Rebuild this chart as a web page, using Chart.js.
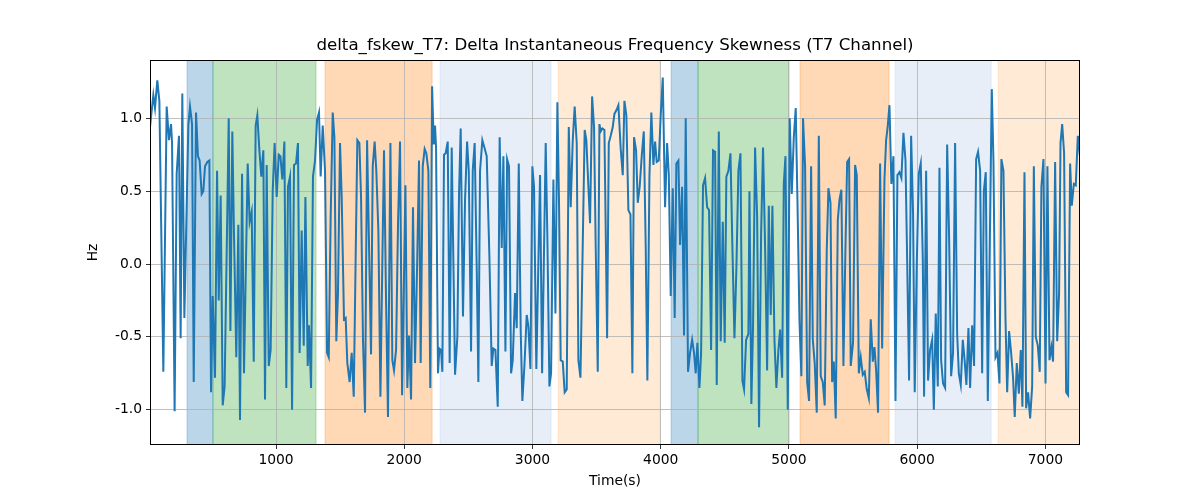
<!DOCTYPE html>
<html>
<head>
<meta charset="utf-8">
<script src="https://cdn.jsdelivr.net/npm/chart.js@4"></script>
<style>
html,body{margin:0;padding:0;background:#fff;}
#c{display:block;}
</style>
</head>
<body>
<canvas id="c" width="1200" height="500"></canvas>
<script>
const chartTitle = "delta_fskew_T7: Delta Instantaneous Frequency Skewness (T7 Channel)";
const xLabel = "Time(s)";
const yLabel = "Hz";
const xTicks = [1000, 2000, 3000, 4000, 5000, 6000, 7000];
const yTicks = [-1.0, -0.5, 0.0, 0.5, 1.0];
const yMin = -1.242, yMax = 1.40;

const times = [
17,43,56,74,90,121,147,165,181,189,209,225,243,256,269,285,316,329,345,358,376,391,404,420,433,446,464,480,493,506,524,540,553,568,584,599,631,644,659,672,690,706,719,735,750,779,794,810,826,841,854,870,885,901,914,927,943,958,974,989,1005,1021,1034,1049,1065,1080,1093,1109,1125,1140,1156,1171,1184,1200,1216,1229,
1247,1257,1273,1288,1304,1320,1335,1348,1364,1382,1398,1411,1426,1442,1455,1470,1483,1499,1512,1530,1543,1556,1574,1590,1606,1621,1634,1650,1663,1678,1694,1710,1741,1754,1769,1782,1798,1814,1827,1842,1858,1873,1892,1907,1920,1936,1951,1967,1983,1996,2009,2024,2037,2053,2068,2084,2100,2115,2128,2144,2159,2172,2188,2203,2217,2230,2240,2248,2263,2274,2287,2297,2310,2323,2339,2354,2370,2396,2414,2427,2440,2458,
2474,2490,2503,2521,2534,2549,2565,2578,2591,2609,2625,2643,2664,2682,2695,2711,2729,2744,2760,2773,2789,2802,2817,2833,2846,2864,2877,2893,2908,2921,2937,2955,2968,2984,2999,3012,3030,3059,3075,3103,3116,3132,3145,3163,3179,3194,3207,3220,3236,3251,3267,3283,3298,3314,3329,3345,3358,3374,3392,3407,3420,3436,3449,3465,3480,3493,3509,3522,3532,3545,3561,3582,3595,3610,3626,3639,3657,3670,
3688,3704,3717,3732,3748,3764,3779,3792,3808,3821,3836,3852,3868,3883,3896,3912,3927,3943,3956,3969,3985,4000,4016,4034,4050,4063,4078,4094,4109,4122,4138,4151,4167,4182,4195,4213,4229,4245,4260,4273,4286,4302,4315,4330,4346,4362,4377,4393,4408,4424,4437,4453,4468,4484,4499,4512,4528,4544,4559,4575,4590,4606,4622,4637,4650,4666,4684,4692,4707,4720,4736,4752,4767,4783,4798,4814,4830,4843,4858,4871,
4887,4902,4918,4931,4947,4960,4973,4991,5006,5022,5038,5053,5066,5082,5097,5110,5126,5142,5157,5173,5186,5201,5217,5233,5248,5264,5279,5295,5308,5324,5337,5350,5365,5381,5394,5409,5425,5441,5454,5469,5482,5500,5516,5529,5545,5560,5576,5591,5607,5623,5638,5654,5667,5680,5695,5711,5727,5745,5758,5771,5784,5799,5815,5831,5846,5862,5877,5893,5909,5922,5937,5953,5968,5981,5997,6013,6028,6044,6054,6070,6085,
6101,6117,6130,6145,6161,6174,6187,6202,6218,6234,6249,6265,6280,6296,6312,6325,6340,6356,6371,6384,6400,6413,6429,6444,6460,6475,6491,6507,6520,6535,6551,6566,6582,6595,6611,6626,6642,6657,6673,6689,6702,6717,6733,6748,6761,6777,6793,6808,6821,6837,6850,6865,6881,6897,6910,6925,6941,6956,6969,6985,7001,7016,7032,7047,7060,7076,7092,7107,7118,7131,7146,7162,7177,7193,7206,7222,7237,7253,7270
];

const values = [
0.94,1.16,1.07,1.26,1.12,-0.74,1.08,0.85,0.96,0.83,-1.01,0.62,0.88,-0.51,1.17,-0.37,0.95,1.08,0.96,-0.81,1.04,0.74,0.71,0.48,0.50,0.67,0.70,0.71,-0.88,-0.22,-0.78,0.64,-0.25,0.47,-0.97,-0.84,1.00,-0.46,0.91,0.21,-0.64,0.27,-1.07,0.62,-0.75,0.69,0.29,0.36,-0.67,0.95,1.02,0.78,0.60,0.78,-0.93,0.68,-0.70,-0.59,0.50,0.83,0.46,0.75,0.74,0.58,0.84,-0.85,0.53,0.60,-1.00,0.68,0.69,0.83,-0.61,0.23,-0.56,0.46,
-0.70,-0.42,-0.85,0.60,0.71,0.99,1.04,0.60,0.95,0.64,-0.61,-0.64,0.32,1.04,0.87,-0.53,-0.20,0.83,0.46,-0.38,-0.37,-0.68,-0.81,-0.61,-0.91,0.05,0.85,0.83,0.46,-0.52,-1.02,0.85,-0.62,0.67,0.84,0.64,0.23,-0.91,-0.11,0.78,-0.25,-1.05,0.83,-0.66,-0.73,-0.59,0.26,0.84,-0.90,-0.20,0.54,-0.85,-0.49,-0.93,0.39,-0.68,-0.02,0.71,-0.68,0.67,0.79,0.76,0.64,-0.85,1.22,0.82,0.95,0.80,-0.75,-0.58,-0.59,-0.74,0.75,0.76,0.84,-0.68,0.80,-0.76,-0.50,0.48,0.93,-0.36,
0.44,0.84,0.64,-0.60,0.64,0.83,-0.02,-0.81,0.64,0.85,0.80,0.74,0.05,-0.70,-0.58,-0.59,-0.98,0.87,0.11,0.74,-0.60,0.72,0.67,-0.75,-0.66,-0.20,-0.44,0.69,-0.45,-0.94,-0.70,-0.35,-0.43,-0.72,0.67,0.53,-0.72,0.61,-0.75,0.83,0.19,-0.84,-0.75,0.58,-0.34,1.11,0.42,-0.66,-0.67,-0.88,-0.86,0.94,0.39,0.85,1.08,0.83,-0.66,-0.78,0.14,0.92,0.85,0.53,0.28,1.15,0.94,0.12,-0.74,0.96,0.91,0.93,0.92,-0.51,0.83,0.88,0.94,1.03,1.06,1.09,
0.79,0.61,1.12,1.02,0.37,0.34,-0.75,0.87,0.78,0.42,0.53,0.74,0.91,0.12,-0.80,0.60,1.04,0.68,0.84,0.70,0.71,1.02,1.28,0.39,0.83,0.62,-0.22,0.52,-0.37,0.69,0.71,0.13,0.53,-0.49,1.00,-0.74,-0.61,-0.52,-0.61,-0.75,-0.54,-0.85,-0.61,0.54,0.59,0.39,0.37,-0.59,0.78,0.77,-0.83,0.91,-0.53,0.29,-0.54,0.60,0.64,0.76,0.12,-0.51,-0.04,0.64,0.76,-0.80,-0.86,-0.52,-0.48,0.50,-0.96,-0.43,0.80,0.32,-1.12,0.21,0.80,0.12,-0.73,0.40,-0.35,0.40,
-0.52,-0.85,-0.59,-0.45,-0.78,0.55,0.74,-1.00,1.00,0.48,0.87,1.07,0.46,-0.38,-0.77,1.00,0.67,-0.81,-0.94,0.67,-0.52,-0.68,-1.02,0.88,-0.77,-0.81,-0.97,0.10,0.52,0.42,-0.81,-0.67,-1.06,0.30,0.44,0.51,-0.70,0.12,0.70,0.72,-0.70,-0.54,0.68,0.61,-0.75,-0.64,-0.76,-0.74,-0.86,-0.92,-0.38,-0.67,-0.57,-0.73,-1.02,0.69,-0.58,0.58,0.85,0.95,1.09,0.55,0.74,-0.94,0.61,0.63,0.59,0.90,0.71,0.03,-0.80,0.88,0.35,-0.88,0.00,0.62,0.69,0.03,-0.91,0.64,-0.80,
-0.59,-0.52,-1.00,-0.34,-0.84,0.66,-0.66,-0.82,-0.85,0.82,0.19,-0.77,-0.61,0.83,-0.48,-0.75,-0.83,-0.52,-0.67,-0.83,-0.44,-0.85,-0.42,-0.70,0.72,0.77,0.64,-0.75,0.50,0.63,-0.94,0.10,1.20,0.71,-0.64,-0.61,-0.82,0.72,0.64,-0.38,-0.88,-0.46,-0.61,-0.78,-1.05,-0.68,-0.89,-0.59,-0.98,0.63,-0.99,-0.88,-1.06,-0.84,0.67,-0.50,-0.56,-0.74,0.53,0.72,-0.82,0.67,-0.66,-0.57,-0.67,0.70,-0.53,-0.20,0.83,0.96,0.76,-0.88,-0.90,0.69,0.40,0.55,0.54,0.88,0.74
];

const spanStarts = [306, 508, 1382, 2279, 3200, 4081, 4291, 5087, 5828, 6632];
const spanEnds   = [508, 1312, 2217, 3145, 3995, 4291, 5001, 5781, 6577, 7273];
const spanColors = [
  "rgba(31,119,180,0.3)", "rgba(44,160,44,0.3)", "rgba(255,127,14,0.3)",
  "rgba(174,199,232,0.3)", "rgba(255,187,120,0.3)",
  "rgba(31,119,180,0.3)", "rgba(44,160,44,0.3)", "rgba(255,127,14,0.3)",
  "rgba(174,199,232,0.3)", "rgba(255,187,120,0.3)"
];

const FONT = "'DejaVu Sans', sans-serif";

const spanPlugin = {
  id: 'spans',
  beforeDraw(chart) {
    const {ctx, chartArea, scales} = chart;
    ctx.save();
    ctx.beginPath();
    ctx.rect(chartArea.left, chartArea.top, chartArea.right - chartArea.left, chartArea.bottom - chartArea.top);
    ctx.clip();
    for (let i = 0; i < spanStarts.length; i++) {
      const x0 = scales.x.getPixelForValue(spanStarts[i]);
      const x1 = scales.x.getPixelForValue(spanEnds[i]);
      ctx.fillStyle = spanColors[i];
      ctx.fillRect(x0, chartArea.top, x1 - x0, chartArea.bottom - chartArea.top);
      ctx.strokeStyle = spanColors[i];
      ctx.lineWidth = 1;
      ctx.strokeRect(x0, chartArea.top, x1 - x0, chartArea.bottom - chartArea.top);
    }
    ctx.restore();
  },
  afterDraw(chart) {
    const {ctx, chartArea} = chart;
    ctx.save();
    ctx.strokeStyle = '#000';
    ctx.lineWidth = 1;
    ctx.strokeRect(Math.round(chartArea.left) + 0.5, Math.round(chartArea.top) + 0.5,
      Math.round(chartArea.right - chartArea.left) - 1, Math.round(chartArea.bottom - chartArea.top) - 1);
    ctx.fillStyle = '#000';
    ctx.textAlign = 'center';
    ctx.textBaseline = 'middle';
    ctx.font = "16.67px " + FONT;
    ctx.fillText(chartTitle, (chartArea.left + chartArea.right) / 2, 46);
    ctx.font = "13.89px " + FONT;
    ctx.fillText(xLabel, (chartArea.left + chartArea.right) / 2, 481);
    ctx.translate(93, (chartArea.top + chartArea.bottom) / 2);
    ctx.rotate(-Math.PI / 2);
    ctx.fillText(yLabel, 0, 0);
    ctx.restore();
  }
};

const data = times.map((t, i) => ({x: t, y: values[i]}));

new Chart(document.getElementById('c'), {
  type: 'line',
  data: {
    datasets: [{
      data: data,
      borderColor: '#1f77b4',
      borderWidth: 2,
      pointRadius: 0,
      tension: 0,
      fill: false
    }]
  },
  options: {
    responsive: false,
    animation: false,
    events: [],
    layout: {padding: {left: 0, right: 120, top: 60, bottom: 0}},
    plugins: {legend: {display: false}, title: {display: false}, tooltip: {enabled: false}},
    scales: {
      x: {
        type: 'linear',
        min: times[0],
        max: times[times.length - 1],
        afterFit(s) { s.height = 55; },
        afterBuildTicks(s) { s.ticks = xTicks.map(v => ({value: v})); },
        grid: {color: '#b0b0b0', lineWidth: 0.8, tickColor: '#000', tickLength: 4, drawOnChartArea: true},
        border: {display: false},
        ticks: {color: '#000', font: {family: FONT, size: 13.89}, padding: 3, maxRotation: 0,
          callback: v => String(v)}
      },
      y: {
        type: 'linear',
        min: yMin,
        max: yMax,
        afterFit(s) { s.width = 150; },
        afterBuildTicks(s) { s.ticks = yTicks.map(v => ({value: v})); },
        grid: {color: '#b0b0b0', lineWidth: 0.8, tickColor: '#000', tickLength: 4},
        border: {display: false},
        ticks: {color: '#000', font: {family: FONT, size: 13.89}, padding: 4,
          callback: v => Number(v).toFixed(1)}
      }
    }
  },
  plugins: [spanPlugin]
});
</script>
</body>
</html>
